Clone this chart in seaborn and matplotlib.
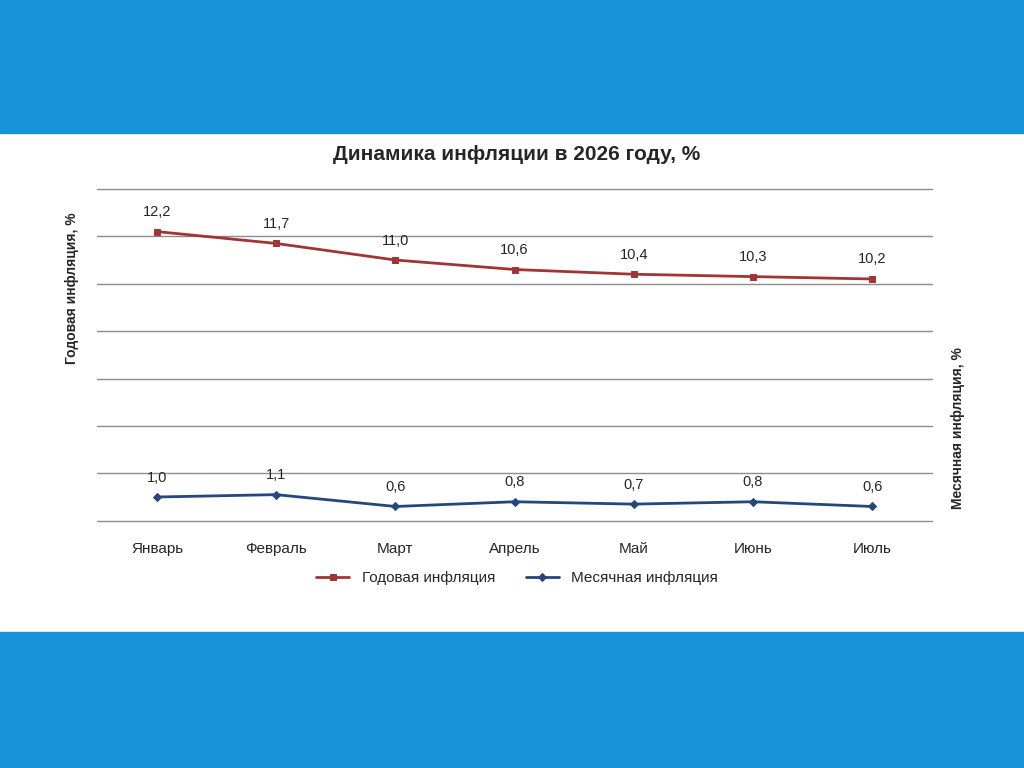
import matplotlib
matplotlib.use("Agg")
import matplotlib.pyplot as plt
from matplotlib.patches import Rectangle
import pandas as pd
import seaborn as sns

months = ["Январь", "Февраль", "Март", "Апрель", "Май", "Июнь", "Июль"]
yearly = [12.2, 11.7, 11.0, 10.6, 10.4, 10.3, 10.2]
monthly = [1.0, 1.1, 0.6, 0.8, 0.7, 0.8, 0.6]

df = pd.DataFrame({"x": range(len(months)), "yearly": yearly, "monthly": monthly})

sns.set_style("white")
plt.rcParams["font.family"] = ["Liberation Sans", "DejaVu Sans"]

fig = plt.figure(figsize=(10.24, 7.68), dpi=100)
blue = "#1693DB"
fig.patches.append(Rectangle((0, 1 - 133 / 768), 1, 133 / 768, transform=fig.transFigure, color=blue, zorder=0))
fig.patches.append(Rectangle((0, 0), 1, 136 / 768, transform=fig.transFigure, color=blue, zorder=0))

ax = fig.add_axes([0.095, 0.322, 0.815, 0.432])
ax2 = ax.twinx()
red_c = "#A03535"
blue_c = "#25477A"

sns.lineplot(data=df, x="x", y="yearly", ax=ax, color=red_c, marker="s", markersize=5,
             markeredgecolor=red_c, linewidth=2, label="Годовая инфляция", legend=False)
sns.lineplot(data=df, x="x", y="monthly", ax=ax2, color=blue_c, marker="D", markersize=4,
             markeredgecolor=blue_c, linewidth=2, label="Месячная инфляция", legend=False)

for a in (ax, ax2):
    a.set_ylim(0, 14)
    a.set_xlim(-0.5, 6.5)
    for s in a.spines.values():
        s.set_visible(False)
    a.set_yticks(range(0, 15, 2))
    a.tick_params(left=False, right=False, labelleft=False, labelright=False, bottom=False)
ax.grid(axis="y", color="#8C8C8C", linewidth=1)
for gl in ax.get_ygridlines():
    gl.set_clip_on(False)
ax.set_xticks(range(len(months)))
ax.set_xticklabels(months, fontsize=11)
ax.tick_params(axis="x", pad=12)
ax.set_xlabel("")
ax.set_ylabel("Годовая инфляция, %", fontsize=10, fontweight="bold")
ax.yaxis.set_label_coords(-0.022, 0.7)
ax2.set_ylabel("Месячная инфляция, %", fontsize=10, fontweight="bold")
ax2.yaxis.set_label_position("right")
ax2.yaxis.set_label_coords(1.023, 0.28)

for i, v in enumerate(yearly):
    ax.annotate(f"{v:.1f}".replace(".", ","), (i, v), textcoords="offset points", xytext=(0, 9),
                ha="center", va="bottom", fontsize=10.5)
for i, v in enumerate(monthly):
    ax2.annotate(f"{v:.1f}".replace(".", ","), (i, v), textcoords="offset points", xytext=(0, 9),
                 ha="center", va="bottom", fontsize=10.5)

fig.text(0.505, 1 - 155 / 768, "Динамика инфляции в 2026 году, %", ha="center", va="center",
         fontsize=15, fontweight="bold")

h1, l1 = ax.get_legend_handles_labels()
h2, l2 = ax2.get_legend_handles_labels()
fig.legend(h1 + h2, l1 + l2, loc="center", bbox_to_anchor=(0.505, 1 - 578 / 768), ncol=2,
           frameon=False, fontsize=11, handlelength=2.2, columnspacing=2)

fig.savefig("out.png", dpi=100)
